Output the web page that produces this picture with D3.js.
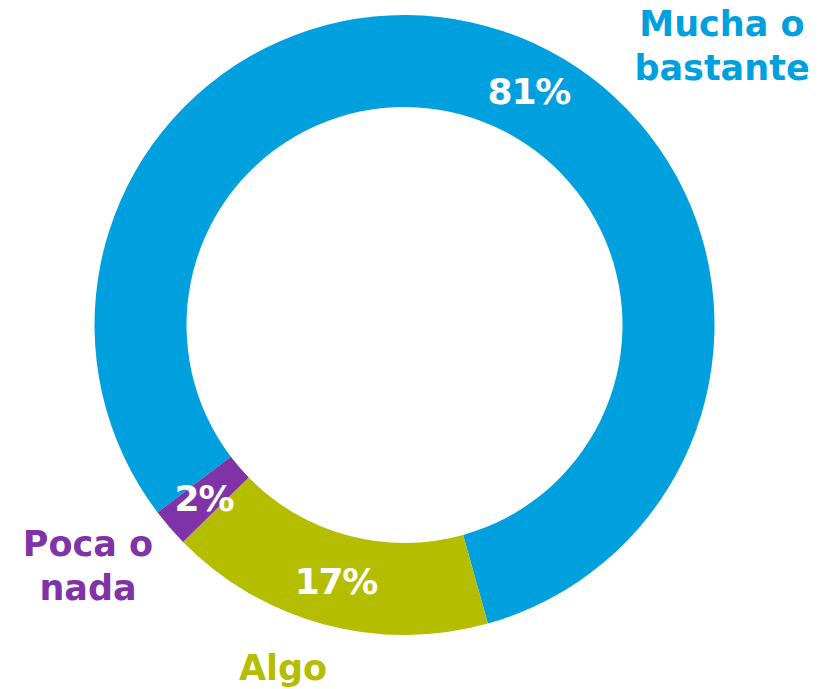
<!DOCTYPE html>
<html><head><meta charset="utf-8">
<script src="https://cdn.jsdelivr.net/npm/d3@7"></script>
<style>html,body{margin:0;padding:0;background:#fff;}svg{display:block;}</style>
</head><body>
<svg id="chart" width="832" height="689"></svg>
<script>
const categories = ["Mucha o bastante", "Algo", "Poca o nada"];
const values = [81, 17, 2];
const valueLabels = ["81%", "17%", "2%"];
const colors = ["#00A0DF", "#B5BD00", "#7F33A6"];

const W = 832, H = 689;
const cx = 404.5, cy = 325, rOuter = 310, rInner = 218;
const startDeg = 232.8;
const labelShiftDeg = [9.4, 0, 0];
const fontFam = "'DejaVu Sans', sans-serif";

const svg = d3.select("#chart");
const g = svg.append("g").attr("transform", `translate(${cx},${cy})`);

const pie = d3.pie().sort(null).value(d => d)
  .startAngle(startDeg * Math.PI / 180)
  .endAngle((startDeg + 360) * Math.PI / 180);
const arcs = pie(values);
const arc = d3.arc().innerRadius(rInner).outerRadius(rOuter);

g.selectAll("path.slice").data(arcs).enter().append("path")
  .attr("class", "slice")
  .attr("d", arc)
  .attr("fill", (d, i) => colors[i]);

// value labels inside ring
const rMid = (rInner + rOuter) / 2 + 1;
g.selectAll("text.val").data(arcs).enter().append("text")
  .attr("class", "val")
  .attr("x", (d, i) => {
    const a = (d.startAngle + d.endAngle) / 2 + labelShiftDeg[i] * Math.PI / 180;
    return rMid * Math.sin(a);
  })
  .attr("y", (d, i) => {
    const a = (d.startAngle + d.endAngle) / 2 + labelShiftDeg[i] * Math.PI / 180;
    return -rMid * Math.cos(a);
  })
  .attr("dy", "0.36em")
  .attr("text-anchor", "middle")
  .attr("fill", "#fff")
  .attr("font-family", fontFam)
  .attr("font-weight", "bold")
  .attr("font-size", 36)
  .attr("letter-spacing", -1.2)
  .text((d, i) => valueLabels[i]);

// category labels outside
const catLayout = [
  { x: 722, y: 36, lines: ["Mucha o", "bastante"] },
  { x: 283, y: 680, lines: ["Algo"] },
  { x: 88, y: 556, lines: ["Poca o", "nada"] }
];
categories.forEach((c, i) => {
  const L = catLayout[i];
  const t = svg.append("text")
    .attr("text-anchor", "middle")
    .attr("fill", colors[i])
    .attr("font-family", fontFam)
    .attr("font-weight", "bold")
    .attr("font-size", 35);
  L.lines.forEach((ln, j) => {
    t.append("tspan").attr("x", L.x).attr("y", L.y + j * 44).text(ln);
  });
});
</script>
</body></html>
